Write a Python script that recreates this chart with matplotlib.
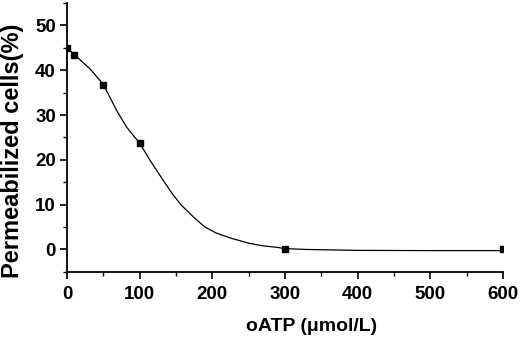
import matplotlib.pyplot as plt
from matplotlib.ticker import MultipleLocator

# Pontos medidos
oatp = [0, 10, 50, 100, 300, 600]
permeab = [45.0, 43.5, 36.8, 23.7, 0.2, 0.2]

# Curva ajustada
curva_x = [0, 10, 20, 31.6, 50, 68.3, 82, 100, 115, 132.5, 145, 157.8, 175, 189.8, 205, 224, 250, 270, 288, 300, 330, 400, 500, 600]
curva_y = [45.0, 43.5, 42.0, 40.3, 36.8, 31.0, 27.3, 23.7, 19.7, 15.4, 12.4, 9.8, 7.1, 5.0, 3.7, 2.6, 1.4, 0.8, 0.5, 0.2, 0.0, -0.2, -0.25, -0.25]

plt.rcParams['font.family'] = ['Liberation Sans', 'DejaVu Sans']

fig = plt.figure(figsize=(5.2, 3.39), dpi=100)
ax = fig.add_axes([0.129, 0.198, 0.838, 0.793])

ax.plot(curva_x, curva_y, color='black', linewidth=0.9)
ax.plot(oatp, permeab, linestyle='none', marker='s', markersize=4.5, color='black')

ax.set_xlim(0, 600)
ax.set_ylim(-5, 55)
ax.xaxis.set_major_locator(MultipleLocator(100))
ax.xaxis.set_minor_locator(MultipleLocator(50))
ax.yaxis.set_major_locator(MultipleLocator(10))
ax.yaxis.set_minor_locator(MultipleLocator(5))

for s in ['top', 'right']:
    ax.spines[s].set_visible(False)
for s in ['left', 'bottom']:
    ax.spines[s].set_linewidth(1.3)

ax.tick_params(which='major', direction='out', length=5, width=1.2, labelsize=13.5)
ax.tick_params(axis='x', which='major', pad=5)
ax.tick_params(axis='y', which='major', pad=3)
ax.tick_params(which='minor', direction='out', length=3, width=1.0)
for lab in ax.get_xticklabels() + ax.get_yticklabels():
    lab.set_fontweight('bold')

ax.set_xlabel("oATP (\u03bcmol/L)", fontsize=14, fontweight='bold')
ax.set_ylabel("Permeabilized cells(%)", fontsize=17, fontweight='bold')
ax.xaxis.set_label_coords(0.562, -0.172)
ax.yaxis.set_label_coords(-0.1, 0.452)

plt.savefig("out.png", dpi=100)
